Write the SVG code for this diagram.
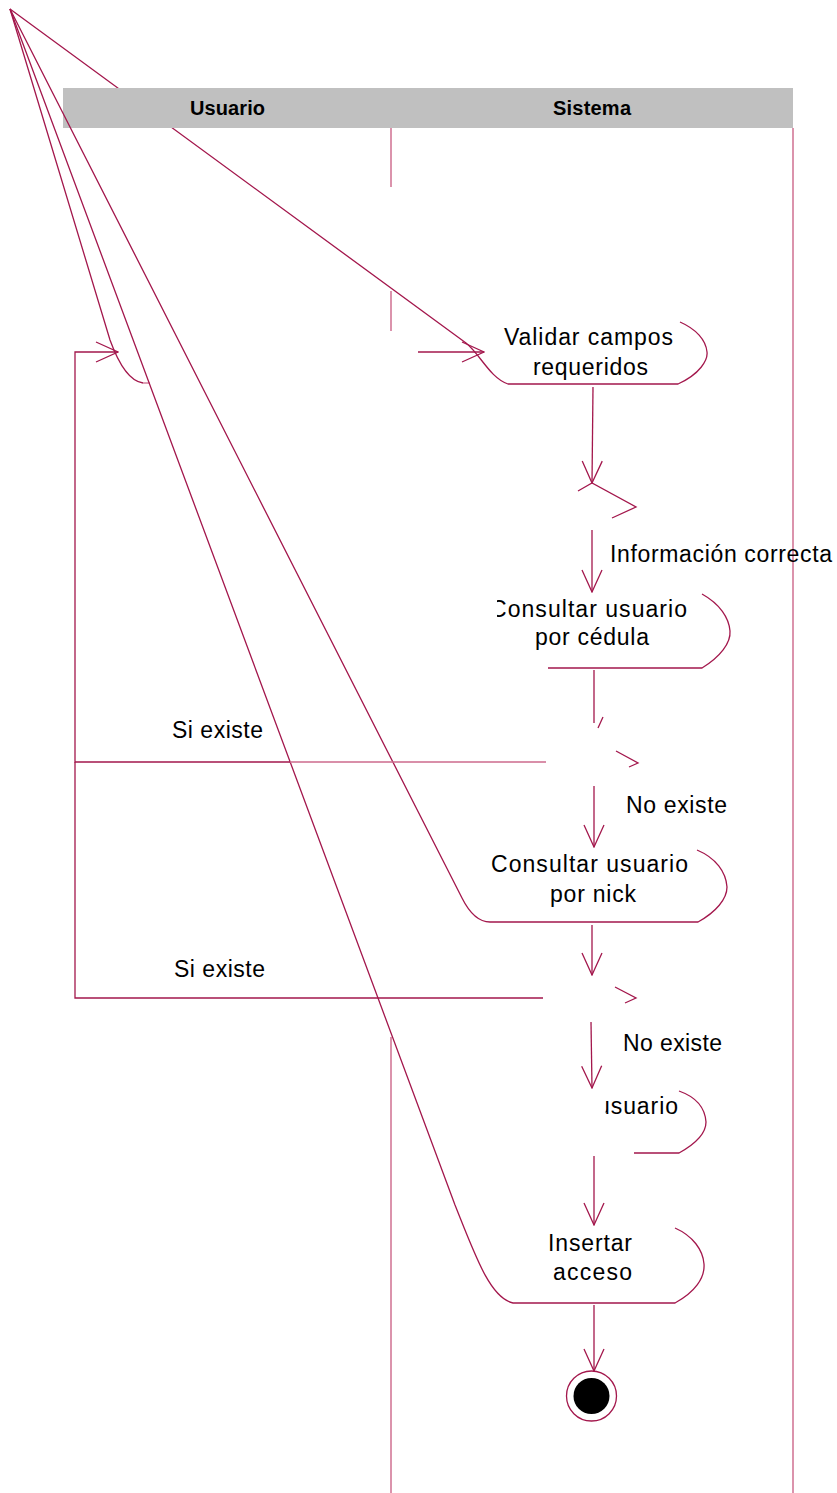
<svg xmlns="http://www.w3.org/2000/svg" width="837" height="1493" viewBox="0 0 837 1493">
<style>
.ln{fill:none;stroke:#a3174c;stroke-width:1.3}
.lane{fill:none;stroke:#c85a80;stroke-width:1.3}
.lite{fill:none;stroke:#cc6a8c;stroke-width:1.3}
.t{font-family:"Liberation Sans",Arial,sans-serif;font-size:23px;fill:#000}
.h{font-family:"Liberation Sans",Arial,sans-serif;font-size:20px;font-weight:bold;fill:#000}
</style>
<defs>
<marker id="arr" markerUnits="userSpaceOnUse" viewBox="0 0 24 22" refX="23" refY="11" markerWidth="24" markerHeight="22" orient="auto">
<path d="M1,1 L23,11 L1,21" fill="none" stroke="#a3174c" stroke-width="1.3"/>
</marker>
<clipPath id="c1"><rect x="497" y="580" width="300" height="80"/></clipPath>
<clipPath id="c2"><rect x="605.5" y="1080" width="200" height="60"/></clipPath>
</defs>
<g id="node-validar">
<path class="ln" d="M10,9 L466,343 C480,354 490,378 508,384 L678,384 C700,374 708,360 707,352 C706,340 696,329 680,322"/>
<text class="t" x="504" y="345" textLength="169" lengthAdjust="spacing">Validar campos</text>
<text class="t" x="533" y="375" textLength="115" lengthAdjust="spacing">requeridos</text>
</g>
<g id="swimlanes">
<rect x="63" y="88" width="730" height="40" fill="#c0c0c0"/>
<text class="h" x="190" y="115" textLength="75" lengthAdjust="spacing">Usuario</text>
<text class="h" x="553" y="115" textLength="78" lengthAdjust="spacing">Sistema</text>
<path class="lane" d="M391,128 V187 M391,291 V331 M391,1037 V1493 M793,128 V1493"/>
</g>
<g id="decision-1">
<path class="ln" d="M578,491 L592,483 L636,507 L612,518"/>
</g>
<g id="node-cedula">
<path class="ln" d="M10,9 L110,340 C118,362 128,381 143,383"/>
<path class="lite" d="M143,383 L150,383"/>
<path class="ln" d="M548,668 L702,668 C720,657 731,643 730,631 C729,618 720,604 702,594"/>
<text class="t" x="490" y="617" textLength="197" lengthAdjust="spacing" clip-path="url(#c1)">Consultar usuario</text>
<text class="t" x="535" y="645" textLength="114" lengthAdjust="spacing">por cédula</text>
</g>
<g id="decision-2">
<path class="ln" d="M616,751 L638,763 L629,767"/>
</g>
<g id="node-nick">
<path class="ln" d="M10,9 L462,898 Q474,922 490,922 L698,922 C716,912 727,899 727,887 C726,872 716,858 697,850"/>
<text class="t" x="491" y="872" textLength="197" lengthAdjust="spacing">Consultar usuario</text>
<text class="t" x="550" y="902" textLength="86" lengthAdjust="spacing">por nick</text>
</g>
<g id="decision-3">
<path class="ln" d="M615,987 L636,998 L625,1003"/>
</g>
<g id="node-usuario">
<path class="ln" d="M634,1153 L679,1153 C697,1143 706,1132 706,1122 C705,1108 696,1097 679,1091"/>
<text class="t" x="597" y="1114" textLength="81" lengthAdjust="spacing" clip-path="url(#c2)">usuario</text>
</g>
<g id="node-insertar">
<path class="ln" d="M10,9 L455,1205 C475,1255 490,1298 513,1303 L675,1303 C695,1292 705,1278 704,1264 C703,1250 693,1236 675,1228"/>
<text class="t" x="548" y="1251" textLength="84" lengthAdjust="spacing">Insertar</text>
<text class="t" x="553" y="1280" textLength="79" lengthAdjust="spacing">acceso</text>
</g>
<g id="final-state">
<circle cx="591.5" cy="1396" r="25" fill="#fff" stroke="#a3174c" stroke-width="1.3"/>
<circle cx="591.5" cy="1396" r="18" fill="#000"/>
</g>
<g id="connectors">
<path class="ln" d="M418,352 L484,352" marker-end="url(#arr)"/>
<path class="ln" d="M593,387 L592,483" marker-end="url(#arr)"/>
<path class="ln" d="M592,530 L592,592" marker-end="url(#arr)"/>
<path class="ln" d="M594,670 L594,723 M598,728 L603,717"/>
<path class="ln" d="M594,786 L594,847" marker-end="url(#arr)"/>
<path class="ln" d="M592,925 L592,975" marker-end="url(#arr)"/>
<path class="ln" d="M591,1022 L592,1088" marker-end="url(#arr)"/>
<path class="ln" d="M594,1156 L594,1225" marker-end="url(#arr)"/>
<path class="ln" d="M594,1305 L594,1371" marker-end="url(#arr)"/>
<path class="lite" d="M546,762 L290,762"/>
<path class="ln" d="M290,762 L75,762 L75,352 L118,352" marker-end="url(#arr)"/>
<path class="ln" d="M543,998 L75,998 L75,762"/>
<text class="t" x="610" y="562" textLength="222" lengthAdjust="spacing">Información correcta</text>
<text class="t" x="172" y="738" textLength="91" lengthAdjust="spacing">Si existe</text>
<text class="t" x="626" y="813" textLength="101" lengthAdjust="spacing">No existe</text>
<text class="t" x="174" y="977" textLength="91" lengthAdjust="spacing">Si existe</text>
<text class="t" x="623" y="1051" textLength="99" lengthAdjust="spacing">No existe</text>
</g>
</svg>
